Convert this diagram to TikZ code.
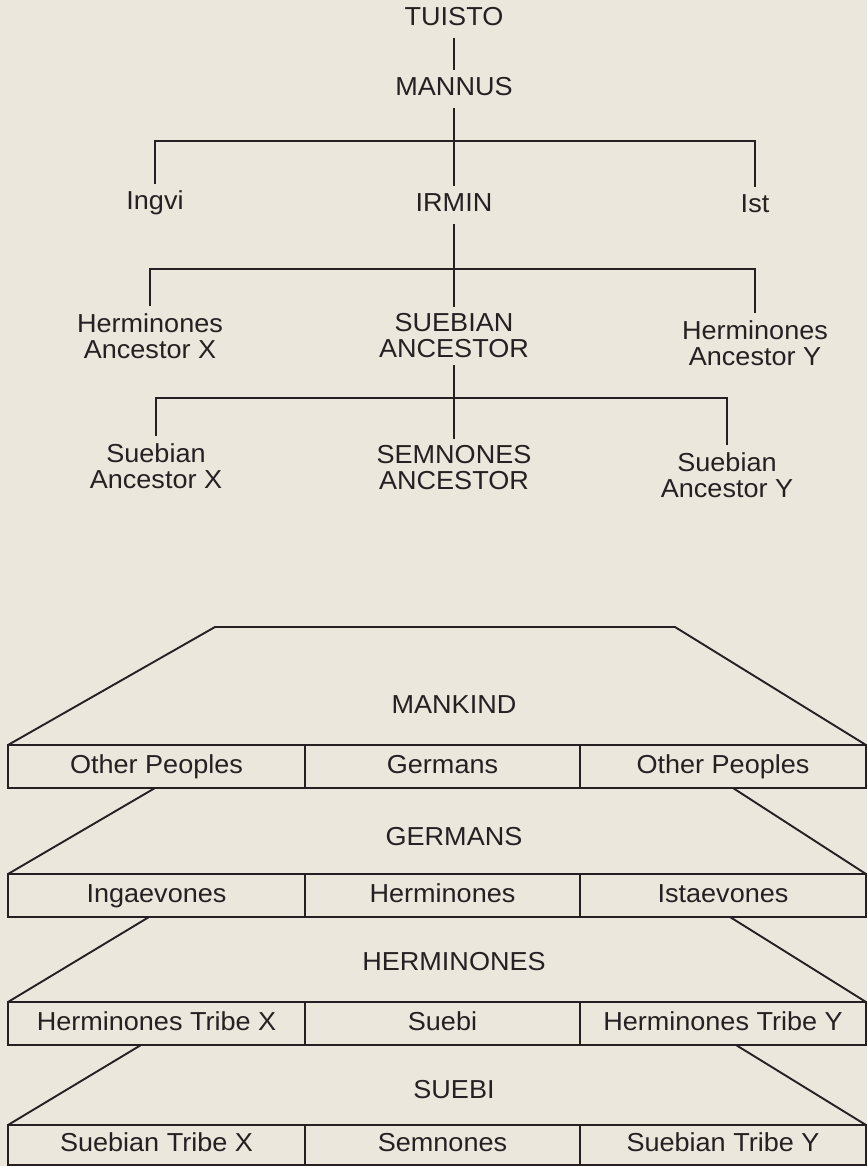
\documentclass[tikz,border=0pt]{standalone}
\usepackage{fontspec}
\setmainfont{Liberation Sans}[FakeStretch=1.04]
\usetikzlibrary{positioning}
\definecolor{paper}{HTML}{EBE7DC}
\definecolor{ink}{HTML}{262022}
\tikzset{
    ancestor/.style={
        font=\fontsize{26}{26}\selectfont, text=ink,
        inner sep=7pt, text height=18pt, text depth=5pt
    },
    ancestorpair/.style={
        font=\fontsize{26}{26}\selectfont, text=ink,
        inner sep=7pt, align=center
    },
    tribe/.style={
        rectangle, draw=ink, line width=1.9pt, text=ink,
        font=\fontsize{26}{26}\selectfont, minimum height=43pt,
        inner sep=0pt, outer sep=0pt, text height=18pt, text depth=5pt
    },
    people/.style={
        font=\fontsize{26}{26}\selectfont, text=ink
    },
    lineage/.style={
        draw=ink, line width=1.9pt
    }
}
\begin{document}
\begin{tikzpicture}[x=1pt, y=-1pt]
    \useasboundingbox (0,0) rectangle (867,1166);
    \fill[paper] (0,0) rectangle (867,1166);

    % genealogy
    \node[ancestor] (tuisto) at (454,19) {TUISTO};
    \node[ancestor] (mannus) at (454,89) {MANNUS};
    \coordinate (fork1) at (454,141);
    \node[ancestor] (ingvi) at (155,203) {Ingvi};
    \node[ancestor] (irmin) at (454,205) {IRMIN};
    \node[ancestor] (ist) at (755,206) {Ist};
    \draw[lineage] (tuisto) -- (mannus);
    \draw[lineage] (mannus) -- (irmin);
    \draw[lineage] (ingvi) |- (fork1) -| (ist);

    \coordinate (fork2) at (454,269);
    \node[ancestorpair] (herminx) at (150,336) {Herminones\\Ancestor X};
    \node[ancestorpair] (suebanc) at (454,336) {SUEBIAN\\ANCESTOR};
    \node[ancestorpair] (herminy) at (755,343) {Herminones\\Ancestor Y};
    \draw[lineage] (irmin) -- (suebanc);
    \draw[lineage] (herminx) |- (fork2) -| (herminy);

    \coordinate (fork3) at (454,398);
    \node[ancestorpair] (suebx) at (156,466) {Suebian\\Ancestor X};
    \node[ancestorpair] (semnanc) at (454,468) {SEMNONES\\ANCESTOR};
    \node[ancestorpair] (sueby) at (727,475) {Suebian\\Ancestor Y};
    \draw[lineage] (suebanc) -- (semnanc);
    \draw[lineage] (suebx) |- (fork3) -| (sueby);

    % peoples
    \node[people] (mankind) at (454,705) {MANKIND};
    \coordinate (mankind-l) at (215,627);
    \coordinate (mankind-r) at (675,627);
    \node[tribe, anchor=north west, minimum width=297pt] (mk-a) at (8,745) {Other Peoples};
    \node[tribe, right=0pt of mk-a, minimum width=275pt] (mk-b) {Germans};
    \node[tribe, right=0pt of mk-b, minimum width=286pt] (mk-c) {Other Peoples};
    \draw[lineage] (mk-a.north west) -- (mankind-l) -- (mankind-r) -- (mk-c.north east);

    \node[people] (germans) at (454,837) {GERMANS};
    \coordinate (germans-l) at (155,788);
    \coordinate (germans-r) at (733,788);
    \node[tribe, anchor=north west, minimum width=297pt] (ge-a) at (8,874) {Ingaevones};
    \node[tribe, right=0pt of ge-a, minimum width=275pt] (ge-b) {Herminones};
    \node[tribe, right=0pt of ge-b, minimum width=286pt] (ge-c) {Istaevones};
    \draw[lineage] (ge-a.north west) -- (germans-l);
    \draw[lineage] (ge-c.north east) -- (germans-r);

    \node[people] (herminones) at (454,962) {HERMINONES};
    \coordinate (herminones-l) at (149,917);
    \coordinate (herminones-r) at (730,917);
    \node[tribe, anchor=north west, minimum width=297pt] (he-a) at (8,1002) {Herminones Tribe X};
    \node[tribe, right=0pt of he-a, minimum width=275pt] (he-b) {Suebi};
    \node[tribe, right=0pt of he-b, minimum width=286pt] (he-c) {Herminones Tribe Y};
    \draw[lineage] (he-a.north west) -- (herminones-l);
    \draw[lineage] (he-c.north east) -- (herminones-r);

    \node[people] (suebi) at (454,1090) {SUEBI};
    \coordinate (suebi-l) at (141,1045);
    \coordinate (suebi-r) at (736,1045);
    \node[tribe, anchor=north west, minimum width=297pt, minimum height=40pt] (su-a) at (8,1125) {Suebian Tribe X};
    \node[tribe, right=0pt of su-a, minimum width=275pt, minimum height=40pt] (su-b) {Semnones};
    \node[tribe, right=0pt of su-b, minimum width=286pt, minimum height=40pt] (su-c) {Suebian Tribe Y};
    \draw[lineage] (su-a.north west) -- (suebi-l);
    \draw[lineage] (su-c.north east) -- (suebi-r);
\end{tikzpicture}
\end{document}
